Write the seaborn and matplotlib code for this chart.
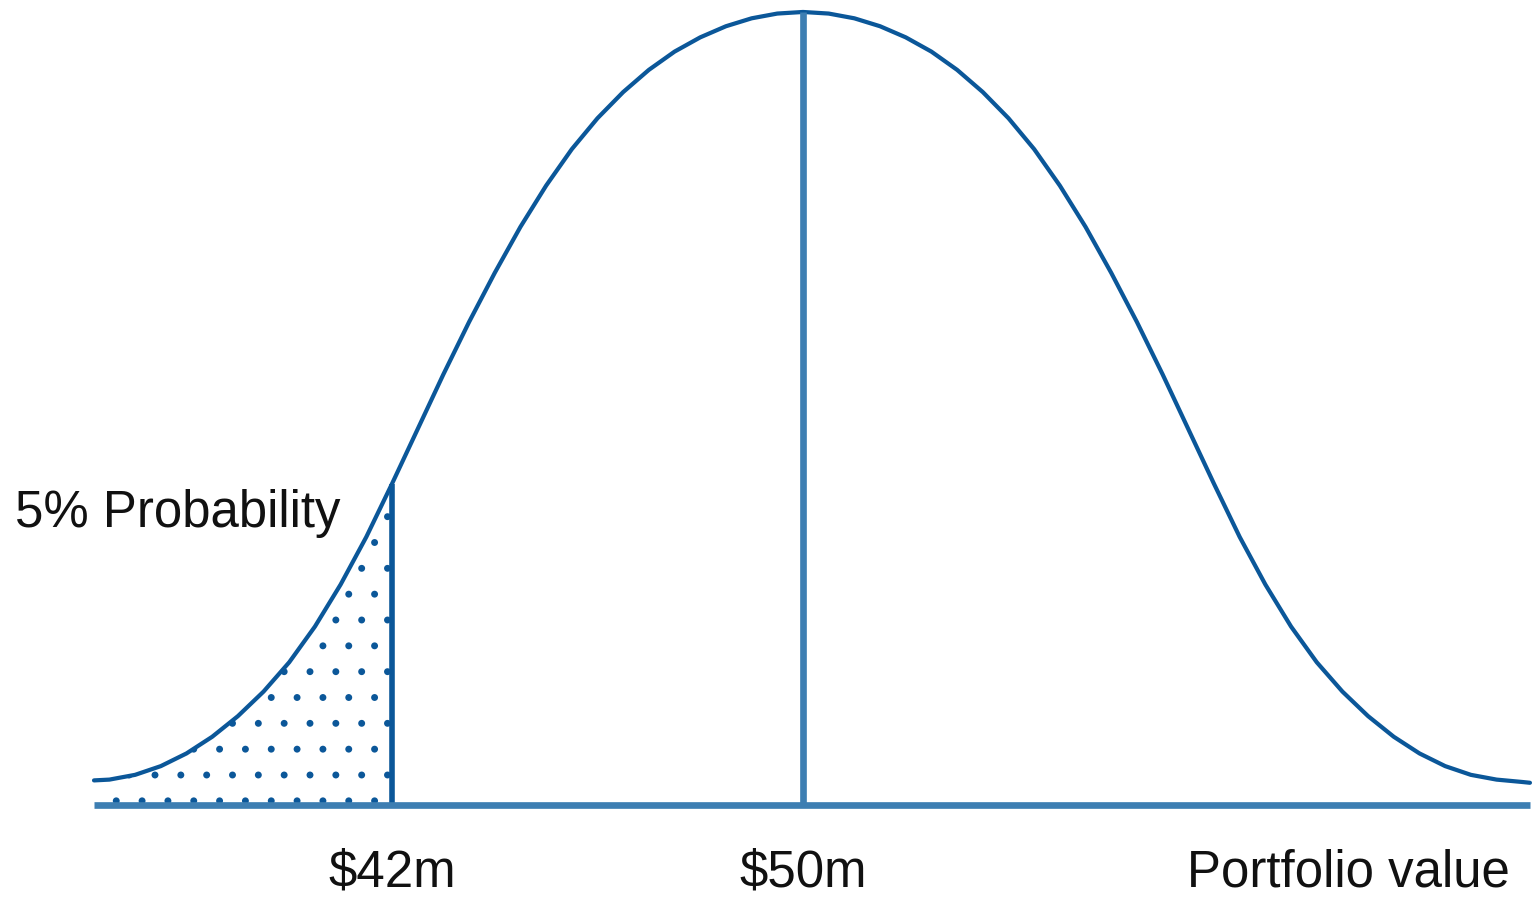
import matplotlib
matplotlib.use("Agg", force=True)
import matplotlib.pyplot as plt
import pandas as pd
import seaborn as sns

# portfolio value ($m) and relative height of the curve
value_m = [36.2, 36.5, 37.0, 37.5, 38.0, 38.5, 39.0, 39.5, 40.0, 40.5, 41.0, 41.5,
           42.0, 42.5, 43.0, 43.5, 44.0, 44.5, 45.0, 45.5, 46.0, 46.5, 47.0, 47.5,
           48.0, 48.5, 49.0, 49.5, 50.0, 50.5, 51.0, 51.5, 52.0, 52.5, 53.0, 53.5,
           54.0, 54.5, 55.0, 55.5, 56.0, 56.5, 57.0, 57.5, 58.0, 58.5, 59.0, 59.5,
           60.0, 60.5, 61.0, 61.5, 62.0, 62.5, 63.0, 63.5, 64.0, 64.15]
height = [0.031, 0.032, 0.038, 0.049, 0.065, 0.086, 0.112, 0.143, 0.180, 0.225, 0.278, 0.338,
          0.405, 0.474, 0.543, 0.609, 0.671, 0.729, 0.781, 0.827, 0.866, 0.899, 0.927, 0.950,
          0.968, 0.982, 0.992, 0.998, 1.000, 0.998, 0.992, 0.982, 0.968, 0.950, 0.927, 0.899,
          0.866, 0.827, 0.781, 0.729, 0.671, 0.609, 0.543, 0.474, 0.405, 0.338, 0.278, 0.225,
          0.180, 0.143, 0.112, 0.086, 0.065, 0.049, 0.038, 0.032, 0.029, 0.028]

var_cutoff = 42.0
mean_value = 50.0
tick_values = [42, 50]
tick_labels = ["$42m", "$50m"]
axis_label = "Portfolio value"
tail_label = "5% Probability"

CURVE = "#0b5799"
BASE = "#3d7eb2"
DPI = 155  # also sets the spacing of the dot hatch

sns.set_style("white")
plt.rcParams["font.family"] = ["Liberation Sans", "DejaVu Sans"]
plt.rcParams["hatch.color"] = CURVE
plt.rcParams["hatch.linewidth"] = 0.8

df = pd.DataFrame({"value": value_m, "height": height})
tail = df[df["value"] <= var_cutoff]

fig = plt.figure(figsize=(1532 / DPI, 898 / DPI), dpi=DPI)
ax = fig.add_axes([0, 0, 1, 1])

ax.fill_between(tail["value"], 0, tail["height"], facecolor="none",
                edgecolor=CURVE, hatch=".", linewidth=0)
sns.lineplot(data=df, x="value", y="height", color=CURVE, linewidth=1.95, ax=ax)

y_at_cut = df.loc[df["value"] == var_cutoff, "height"].iloc[0]
y_at_mean = df.loc[df["value"] == mean_value, "height"].iloc[0]
ax.vlines(var_cutoff, 0, y_at_cut, color=CURVE, linewidth=2.6)
ax.vlines(mean_value, 0, y_at_mean, color=BASE, linewidth=3.1)
ax.hlines(0, df["value"].min(), df["value"].max(), color=BASE, linewidth=3.1)

fs = 23.7
for v, lab in zip(tick_values, tick_labels):
    ax.text(v, -0.1034, lab, ha="center", va="baseline", fontsize=fs, color="#111111")
ax.text(63.75, -0.1034, axis_label, ha="right", va="baseline", fontsize=fs, color="#111111")
ax.text(34.66, 0.3506, tail_label, ha="left", va="baseline", fontsize=fs, color="#111111")

ax.set_xlim(34.37, 64.19)
ax.set_ylim(-0.1173, 1.0151)
ax.axis("off")

fig.savefig("out.png", dpi=DPI, facecolor="white")
plt.close(fig)
